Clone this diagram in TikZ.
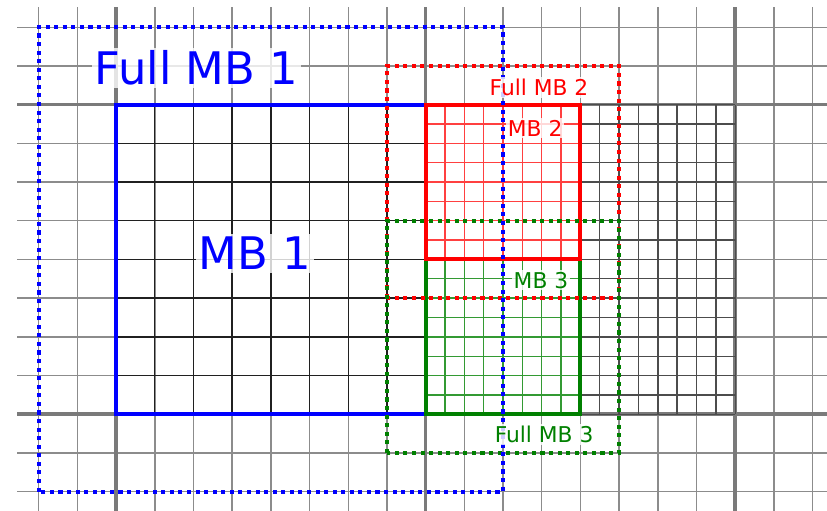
\documentclass[tikz,border=0pt]{standalone}
\usepackage{fontspec}
\setmainfont{DejaVu Sans}
\usepackage{xcolor}
\usepackage{tikz}
\definecolor{mbblue}{HTML}{0000FF}
\definecolor{mbred}{HTML}{FF0000}
\definecolor{mbgreen}{HTML}{008000}
\definecolor{gridgrey}{HTML}{8C8C8C}
\definecolor{thickgrey}{HTML}{7A7A7A}
\definecolor{darkline}{HTML}{202020}

\begin{document}
\begin{tikzpicture}[x=1cm, y=1cm,
    thin grid/.style={gridgrey, line width=1.1pt},
    thick grid/.style={thickgrey, line width=2.6pt},
    fine grid/.style={line width=1pt},
    mb box/.style={line width=3pt},
    full box/.style={line width=3pt, dash pattern=on 3pt off 3.3pt},
    big label/.style={fill=white, fill opacity=0.8, text opacity=1,
      inner sep=2pt, anchor=base, font=\fontsize{33}{36}\selectfont},
    small label/.style={fill=white, fill opacity=0.8, text opacity=1,
      inner sep=1.5pt, anchor=base, font=\fontsize{16}{18}\selectfont}]
      \useasboundingbox (-3.0, -2.5) rectangle (18.372, 10.705);
      % coarse grid
      \foreach \i in {-2,...,18}
        \draw[thin grid] (\i, -2.5) -- (\i, 10.52);
      \foreach \j in {-2,...,10}
        \draw[thin grid] (-2.56, \j) -- (18.372, \j);
      % macroblock borders
      \foreach \i in {0, 8, 16}
        \draw[thick grid] (\i, -2.5) -- (\i, 10.52);
      \foreach \j in {0, 8}
        \draw[thick grid] (-2.56, \j) -- (18.372, \j);
      % half-cell grid right of MB 2 / MB 3
      \draw[fine grid, black!70, step=0.5] (12, 0) grid (16, 8);
      % MB 1 cells
      \draw[fine grid, darkline] (0, 0) grid (8, 8);
      % MB 2 and MB 3 cells
      \draw[fine grid, mbgreen!80, step=0.5] (8, 0) grid (12, 4);
      \draw[fine grid, mbred!75, step=0.5] (8, 4) grid (12, 8);
      % macroblocks
      \draw[mb box, mbblue] (0, 0) rectangle (8, 8);
      \draw[mb box, mbgreen] (8, 0) rectangle (12, 4);
      \draw[mb box, mbred] (8, 4) rectangle (12, 8);
      % full macroblocks
      \draw[full box, mbred] (7, 3) rectangle (13, 9);
      \draw[full box, mbgreen] (7, -1) rectangle (13, 5);
      \draw[full box, mbblue] (-2, -2) rectangle (10, 10);
      % labels
      \node[big label, text=mbblue] (fullmb1) at (2.08, 8.51) {Full MB 1};
      \node[big label, text=mbblue] (mb1) at (3.59, 3.73) {MB 1};
      \node[small label, text=mbred] (fullmb2) at (10.93, 8.23) {Full MB 2};
      \node[small label, text=mbred] (mb2) at (10.83, 7.19) {MB 2};
      \node[small label, text=mbgreen] (mb3) at (10.98, 3.26) {MB 3};
      \node[small label, text=mbgreen] (fullmb3) at (11.06, -0.74) {Full MB 3};
    \end{tikzpicture}
\end{document}
